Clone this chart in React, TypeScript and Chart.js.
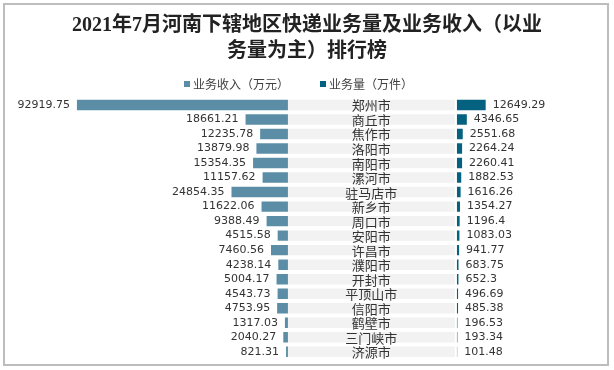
import React, { useEffect, useRef } from 'react';
import { Chart, registerables } from 'chart.js';

Chart.register(...registerables);

// ---------- data ----------
const TITLE_LINES = ['2021年7月河南下辖地区快递业务量及业务收入（以业', '务量为主）排行榜'];

const CITIES = [
  '郑州市', '商丘市', '焦作市', '洛阳市', '南阳市', '漯河市', '驻马店市', '新乡市', '周口市',
  '安阳市', '许昌市', '濮阳市', '开封市', '平顶山市', '信阳市', '鹤壁市', '三门峡市', '济源市',
];

// 业务收入（万元）
const REVENUE = [
  92919.75, 18661.21, 12235.78, 13879.98, 15354.35, 11157.62, 24854.35, 11622.06, 9388.49,
  4515.58, 7460.56, 4238.14, 5004.17, 4543.73, 4753.95, 1317.03, 2040.27, 821.31,
];

// 业务量（万件）
const VOLUME = [
  12649.29, 4346.65, 2551.68, 2264.24, 2260.41, 1882.53, 1616.26, 1354.27, 1196.4,
  1083.03, 941.77, 683.75, 652.3, 496.69, 485.38, 196.53, 193.34, 101.48,
];

const REVENUE_LABEL = '业务收入（万元）';
const VOLUME_LABEL = '业务量（万件）';

// ---------- styles / scale setup ----------
const COLOR_REVENUE = '#5B8EA6';
const COLOR_VOLUME = '#04617F';
const COLOR_BAND = '#F2F2F2';
const TEXT_COLOR = '#333333';

const CJK = "'Noto Sans CJK SC', sans-serif";
const NUM_FONT = "'DejaVu Sans', 'Noto Sans', sans-serif";
const TITLE_FONT = "'Liberation Serif', 'Noto Sans CJK SC', serif";

// axis ranges (left side: revenue + label band, right side: volume)
const LEFT_MIN = -126800;
const LEFT_MAX = 143600;
const RIGHT_MIN = -201200;
const RIGHT_MAX = 69150;
const BAND_SPAN = 73500;

const rowLabelPlugin = {
  id: 'rowLabels',
  afterDatasetsDraw(chart: any) {
    const ctx = chart.ctx;
    const metaRev = chart.getDatasetMeta(0);
    const metaVol = chart.getDatasetMeta(1);
    const metaBand = chart.getDatasetMeta(2);
    ctx.save();
    ctx.textBaseline = 'middle';
    ctx.fillStyle = TEXT_COLOR;
    ctx.font = `11px ${NUM_FONT}`;
    ctx.textAlign = 'right';
    metaRev.data.forEach((el: any, i: number) => {
      const left = Math.min(el.x, el.base);
      ctx.fillText(String(REVENUE[i]), left - 7, el.y);
    });
    ctx.textAlign = 'left';
    metaVol.data.forEach((el: any, i: number) => {
      const right = Math.max(el.x, el.base);
      ctx.fillText(String(VOLUME[i]), right + 7, el.y);
    });
    ctx.font = `13px ${CJK}`;
    ctx.textAlign = 'center';
    metaBand.data.forEach((el: any, i: number) => {
      ctx.fillText(CITIES[i], (el.x + el.base) / 2, el.y + 0.5);
    });
    ctx.restore();
  },
};

const legendPlugin = {
  id: 'topLegend',
  afterDraw(chart: any) {
    const ctx = chart.ctx;
    const items = [chart.data.datasets[0], chart.data.datasets[1]];
    const BOX = 6;
    const BOX_GAP = 3;
    const ITEM_GAP = 31;
    const CENTER_X = 298.5;
    const Y = 84;
    ctx.save();
    ctx.font = `12px ${CJK}`;
    ctx.textBaseline = 'middle';
    ctx.textAlign = 'left';
    const widths = items.map((d: any) => BOX + BOX_GAP + ctx.measureText(d.label).width);
    const total = widths.reduce((a: number, b: number) => a + b, 0) + ITEM_GAP * (items.length - 1);
    let x = CENTER_X - total / 2;
    items.forEach((d: any, i: number) => {
      ctx.fillStyle = d.backgroundColor;
      ctx.fillRect(Math.round(x), Y - BOX / 2, BOX, BOX);
      ctx.fillStyle = '#404040';
      ctx.fillText(d.label, x + BOX + BOX_GAP, Y);
      x += widths[i] + ITEM_GAP;
    });
    ctx.restore();
  },
};

export default function App() {
  const ref = useRef<HTMLCanvasElement>(null);

  useEffect(() => {
    if (!ref.current) return;
    const chart = new Chart(ref.current, {
      type: 'bar',
      data: {
        labels: CITIES,
        datasets: [
          {
            label: REVENUE_LABEL,
            data: REVENUE.map((v) => -v),
            xAxisID: 'x',
            backgroundColor: COLOR_REVENUE,
          },
          {
            label: VOLUME_LABEL,
            data: VOLUME,
            xAxisID: 'x2',
            backgroundColor: COLOR_VOLUME,
          },
          {
            label: '',
            data: CITIES.map(() => BAND_SPAN),
            xAxisID: 'x',
            backgroundColor: COLOR_BAND,
          },
        ],
      },
      options: {
        indexAxis: 'y',
        responsive: false,
        animation: false,
        events: [],
        layout: { padding: { top: 0, bottom: 11, left: 0, right: 0 } },
        datasets: {
          bar: { grouped: false, categoryPercentage: 1, barPercentage: 0.72 },
        },
        scales: {
          y: { display: false, offset: true },
          x: { type: 'linear', display: false, min: LEFT_MIN, max: LEFT_MAX },
          x2: { type: 'linear', axis: 'x', display: false, min: RIGHT_MIN, max: RIGHT_MAX, position: 'bottom' },
        },
        plugins: {
          legend: { display: false },
          tooltip: { enabled: false },
          title: {
            display: true,
            text: TITLE_LINES,
            color: '#222222',
            font: { family: TITLE_FONT, size: 20, weight: 'bold', lineHeight: 1.3 },
            padding: { top: 12.5, bottom: 33.25 },
          },
        },
      } as any,
      plugins: [rowLabelPlugin, legendPlugin],
    });
    return () => chart.destroy();
  }, []);

  return (
    <div
      style={{
        position: 'absolute',
        left: 0,
        top: 0,
        width: 614,
        height: 370,
        background: '#ffffff',
        overflow: 'hidden',
      }}
    >
      <canvas ref={ref} width={614} height={370} style={{ position: 'absolute', left: 0, top: 0 }} />
      <div
        style={{
          position: 'absolute',
          left: 3,
          top: 3,
          width: 606,
          height: 363,
          boxSizing: 'border-box',
          border: '2px solid #bdbdbd',
          pointerEvents: 'none',
        }}
      />
    </div>
  );
}
